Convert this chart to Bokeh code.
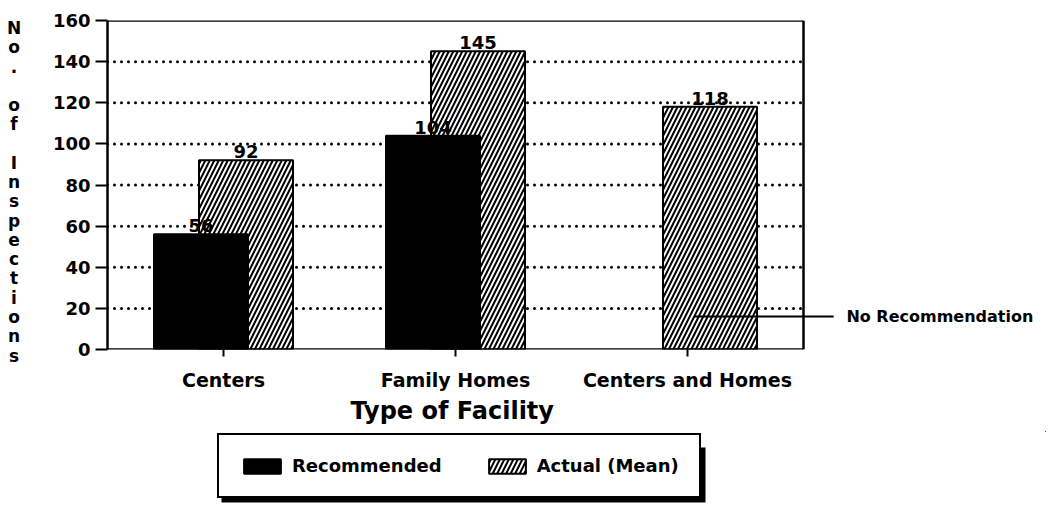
from bokeh.plotting import figure
from bokeh.layouts import row, column
from bokeh.models import (Range1d, FixedTicker, Legend, LegendItem, ColumnDataSource, Title)
from bokeh.core.properties import value
from bokeh.embed import file_html
from bokeh.resources import INLINE

# ---- data ----
categories = ["Centers", "Family Homes", "Centers and Homes"]
recommended = [56, 104, None]
actual = [92, 145, 118]
y_ticks = [0, 20, 40, 60, 80, 100, 120, 140, 160]
y_label = "No. of Inspections"
x_label = "Type of Facility"
series_names = ["Recommended", "Actual (Mean)"]
note_text = "No Recommendation"
note_level = 16
note_span = [2.53, 3.13]

FONT = "DejaVu Sans"
OFF = 0.097
BW = 0.405
N = len(categories)
LAB_W = 30
LEFT, TOP, RIGHT, BOTTOM = 77, 20, 9, 82
FRAME_W, FRAME_H = 930, 329
MAIN_H = TOP + FRAME_H + BOTTOM
X_END = N * FRAME_W / 696   # visible box covers 0..N, the rest holds the side note
LEG_H = 76
TOTAL_W = LAB_W + LEFT + FRAME_W + RIGHT

HATCH = dict(fill_color="white", hatch_pattern="/", hatch_color="black",
             hatch_scale=9, hatch_weight=2, line_color="black", line_width=2)
SOLID = dict(fill_color="black", line_color="black", line_width=2)

# ---- stacked y-axis title (one character per row) ----
ys, chars = [], []
pos = 7.0
for ch in y_label:
    if ch != " ":
        ys.append(pos)
        chars.append(ch)
    pos += 19.3
lab = figure(frame_width=LAB_W, frame_height=MAIN_H, x_range=Range1d(0, 1),
             y_range=Range1d(MAIN_H, 0), x_axis_type=None, y_axis_type=None,
             output_backend="svg", toolbar_location=None, min_border=0,
             outline_line_color=None,
             background_fill_color="white", border_fill_color="white")
lab.grid.visible = False
lab.text(x=[0.45] * len(chars), y=ys, text=chars, text_align="center",
         text_baseline="middle", text_font=value(FONT), text_font_style="bold",
         text_font_size="17px", text_color="black")

# ---- main chart ----
p = figure(frame_width=FRAME_W, frame_height=FRAME_H,
           x_range=Range1d(0, X_END), y_range=Range1d(y_ticks[0], y_ticks[-1]),
           output_backend="svg", toolbar_location=None,
           min_border_left=LEFT, min_border_top=TOP, min_border_right=RIGHT,
           min_border_bottom=BOTTOM,
           background_fill_color="white", border_fill_color="white")
p.outline_line_color = None

rec_x = [i + 0.5 - OFF for i, v in enumerate(recommended) if v is not None]
rec_y = [v for v in recommended if v is not None]
act_x = [i + 0.5 + OFF for i, v in enumerate(actual) if v is not None]
act_y = [v for v in actual if v is not None]

rec_src = ColumnDataSource(dict(x=rec_x, top=rec_y, lbl=[str(v) for v in rec_y]))
act_src = ColumnDataSource(dict(x=act_x, top=act_y, lbl=[str(v) for v in act_y]))

# grid (only across the boxed chart area)
grid_y = y_ticks[1:-1]
p.multi_line(xs=[[0, N] for _ in grid_y], ys=[[g, g] for g in grid_y],
             line_color="black", line_width=3, line_dash="0 7", line_cap="round")

p.vbar(x="x", top="top", bottom=0, width=BW, source=act_src, **HATCH)
p.vbar(x="x", top="top", bottom=0, width=BW, source=rec_src, **SOLID)

for src in (rec_src, act_src):
    p.text(x="x", y="top", text="lbl", source=src, text_align="center",
           text_baseline="bottom", y_offset=-2, text_font=value(FONT),
           text_font_style="bold", text_font_size="18px", text_color="black")

# box around the chart area (top, right, bottom)
p.multi_line(xs=[[0, N], [N, N], [0, N]],
             ys=[[y_ticks[-1], y_ticks[-1]], [y_ticks[0], y_ticks[-1]], [y_ticks[0], y_ticks[0]]],
             line_color="black", line_width=2.5)

# annotation for the missing recommendation
p.segment(x0=[note_span[0]], y0=[note_level], x1=[note_span[1]], y1=[note_level],
          line_color="black", line_width=2)
p.text(x=[note_span[1] + 0.055], y=[note_level], text=[note_text], text_baseline="middle",
       text_font=value(FONT), text_font_style="bold", text_font_size="16px",
       text_color="black")

p.grid.visible = False

# y axis
ya = p.yaxis[0]
ya.ticker = FixedTicker(ticks=y_ticks)
ya.minor_tick_line_color = None
ya.major_tick_in = 0
ya.major_tick_out = 12
ya.major_tick_line_width = 2
ya.axis_line_width = 2.5
ya.major_label_standoff = 5
ya.major_label_text_font = FONT
ya.major_label_text_font_style = "bold"
ya.major_label_text_font_size = "18px"
ya.major_label_text_color = "black"

# x axis
xa = p.xaxis[0]
xa.ticker = FixedTicker(ticks=[i + 0.5 for i in range(N)])
xa.major_label_overrides = {i + 0.5: c for i, c in enumerate(categories)}
xa.axis_line_color = None
xa.minor_tick_line_color = None
xa.major_tick_in = 0
xa.major_tick_out = 7
xa.major_tick_line_width = 2
xa.major_label_standoff = 12
xa.major_label_text_font = FONT
xa.major_label_text_font_style = "bold"
xa.major_label_text_font_size = "19px"
xa.major_label_text_color = "black"

p.add_layout(Title(text=x_label, align="left", offset=243, standoff=2,
                   text_font=FONT, text_font_style="bold", text_font_size="24px",
                   text_color="black"), "below")

# ---- legend strip (proxy renderers share the data but sit outside this strip's view) ----
X0, Y0 = -TOTAL_W - 10, -LEG_H - 10
leg = figure(frame_width=TOTAL_W, frame_height=LEG_H, x_range=Range1d(X0, X0 + TOTAL_W),
             y_range=Range1d(Y0, Y0 + LEG_H), x_axis_type=None, y_axis_type=None,
             output_backend="svg", toolbar_location=None, min_border=0,
             outline_line_color=None,
             background_fill_color="white", border_fill_color="white")
leg.grid.visible = False
# drop shadow behind the legend box
leg.quad(left=[X0 + 221], right=[X0 + 705], bottom=[Y0 + 5], top=[Y0 + 60],
         fill_color="black", line_color=None)
r_rec = leg.vbar(x="x", top="top", bottom=0, width=BW, source=rec_src, **SOLID)
r_act = leg.vbar(x="x", top="top", bottom=0, width=BW, source=act_src, **HATCH)
legend = Legend(items=[LegendItem(label=series_names[0], renderers=[r_rec]),
                       LegendItem(label=series_names[1], renderers=[r_act])],
                orientation="horizontal", location=(217, 9),
                border_line_color="black", border_line_width=2, border_line_alpha=1,
                background_fill_color="white", background_fill_alpha=1,
                label_text_font=FONT, label_text_font_style="bold",
                label_text_color="black",
                label_text_font_size="18px", label_standoff=7,
                glyph_width=46, glyph_height=18, spacing=42,
                padding=20, margin=0)
leg.add_layout(legend, "center")

layout = column(row(lab, p, spacing=0), leg, spacing=0)
open("out.html", "w").write(file_html(layout, INLINE))
